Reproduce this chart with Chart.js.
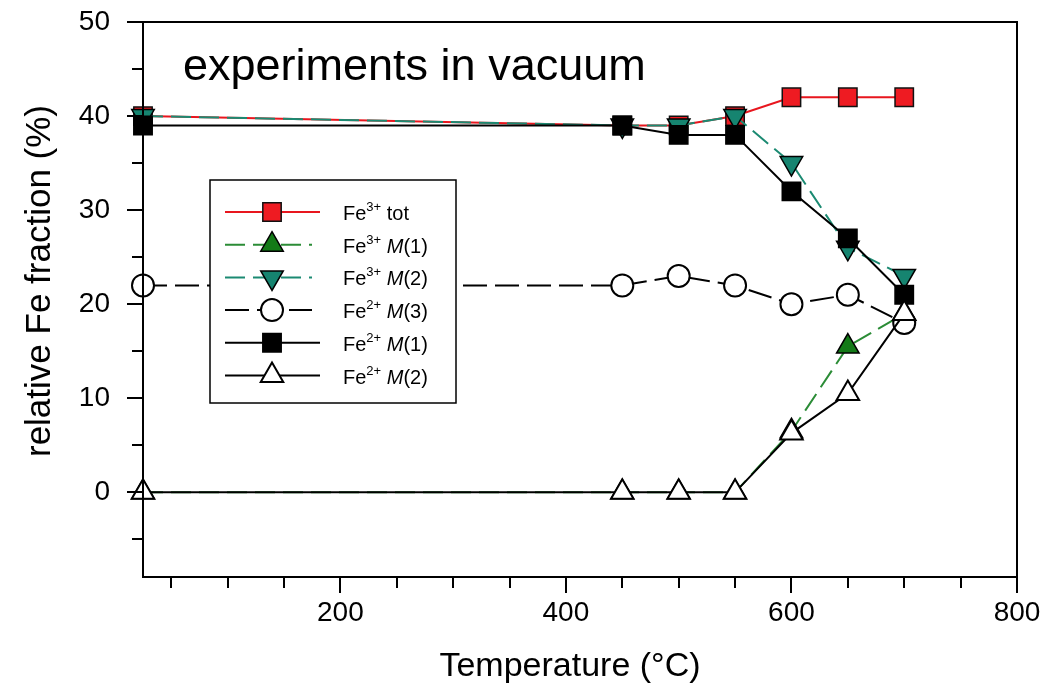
<!DOCTYPE html>
<html>
<head>
<meta charset="utf-8">
<script src="https://cdn.jsdelivr.net/npm/chart.js@4.4.1/dist/chart.umd.min.js"></script>
<style>
  html, body { margin: 0; padding: 0; background: #fff; }
</style>
</head>
<body>
<canvas id="feChart" width="1049" height="696"></canvas>
<script>
// temperatures (°C) and Fe fractions (%)
const temps = [25, 450, 500, 550, 600, 650, 700];
const fe3Tot = [40, 39, 39, 40, 42, 42, 42];
const fe3M1  = [0, 0, 0, 0, 6.5, 15.5, 19];
const fe3M2  = [40, 39, 39, 40, 35, 26, 23];
const fe2M3  = [22, 22, 23, 22, 20, 21, 18];
const fe2M1  = [39, 39, 38, 38, 32, 27, 21];
const fe2M2  = [0, 0, 0, 0, 6.3, 10.5, 19];

const xLabels = [200, 400, 600, 800];
const yLabels = [0, 10, 20, 30, 40, 50];

const FONT = "'Liberation Sans', Arial, sans-serif";

function pts(arr) {
    return temps.map((t, i) => ({ x: t, y: arr[i] }));
}

// legend text pieces: ion charge (superscript), italic site letter, rest
const legendParts = [
    ['3+', '', 'tot'],
    ['3+', 'M', '(1)'],
    ['3+', 'M', '(2)'],
    ['2+', 'M', '(3)'],
    ['2+', 'M', '(1)'],
    ['2+', 'M', '(2)']
];

const datasets = [
    { label: 'Fe3+ tot', data: pts(fe3Tot), borderColor: '#e8161e', borderWidth: 2, borderDash: [],
      pointStyle: 'rect', pointRadius: 13, pointBackgroundColor: '#ee1b22', pointBorderColor: '#111',
      pointBorderWidth: 1.5, order: 5 },
    { label: 'Fe3+ M(1)', data: pts(fe3M1), borderColor: '#2b8c36', borderWidth: 2, borderDash: [20, 8],
      pointStyle: 'triangle', pointRadius: 13, pointBackgroundColor: '#137a17', pointBorderColor: '#000',
      pointBorderWidth: 1.5, order: 4 },
    { label: 'Fe3+ M(2)', data: pts(fe3M2), borderColor: '#1b8a72', borderWidth: 2, borderDash: [20, 8],
      pointStyle: 'triangle', pointRotation: 180, pointRadius: 13, pointBackgroundColor: '#168470',
      pointBorderColor: '#000', pointBorderWidth: 1.5, order: 3 },
    { label: 'Fe2+ M(3)', data: pts(fe2M3), borderColor: '#000', borderWidth: 2, borderDash: [24, 8],
      pointStyle: 'circle', pointRadius: 11, pointBackgroundColor: '#fff', pointBorderColor: '#000',
      pointBorderWidth: 2, order: 2 },
    { label: 'Fe2+ M(1)', data: pts(fe2M1), borderColor: '#000', borderWidth: 2, borderDash: [],
      pointStyle: 'rect', pointRadius: 13, pointBackgroundColor: '#000', pointBorderColor: '#000',
      pointBorderWidth: 1.5, order: 1 },
    { label: 'Fe2+ M(2)', data: pts(fe2M2), borderColor: '#000', borderWidth: 2, borderDash: [],
      pointStyle: 'triangle', pointRadius: 13, pointBackgroundColor: '#fff', pointBorderColor: '#000',
      pointBorderWidth: 2, order: 0 }
];
datasets.forEach(d => { d.tension = 0; d.fill = false; d.clip = false; });

// frame, tick marks, axis titles, legend box and the caption
const decor = {
    id: 'decor',
    afterDraw(chart) {
        const ctx = chart.ctx;
        const a = chart.chartArea;
        const xs = chart.scales.x, ys = chart.scales.y;
        ctx.save();
        ctx.strokeStyle = '#000';
        ctx.lineWidth = 2;
        ctx.setLineDash([]);
        ctx.strokeRect(a.left, a.top, a.right - a.left, a.bottom - a.top);

        xs.ticks.forEach(t => {
            const px = Math.round(xs.getPixelForValue(t.value));
            const len = xLabels.includes(t.value) ? 16 : 11;
            ctx.beginPath();
            ctx.moveTo(px, a.bottom);
            ctx.lineTo(px, a.bottom + len);
            ctx.stroke();
        });
        ys.ticks.forEach(t => {
            const py = Math.round(ys.getPixelForValue(t.value));
            const len = yLabels.includes(t.value) ? 16 : 11;
            ctx.beginPath();
            ctx.moveTo(a.left, py);
            ctx.lineTo(a.left - len, py);
            ctx.stroke();
        });

        // axis titles
        ctx.fillStyle = '#000';
        ctx.textAlign = 'center';
        ctx.textBaseline = 'middle';
        ctx.font = '34px ' + FONT;
        ctx.fillText('Temperature (°C)', 570, 667);
        ctx.save();
        ctx.translate(40, 281);
        ctx.rotate(-Math.PI / 2);
        ctx.font = '35px ' + FONT;
        ctx.fillText('relative Fe fraction (%)', 0, 0);
        ctx.restore();

        // caption
        ctx.font = '45px ' + FONT;
        ctx.textAlign = 'left';
        ctx.textBaseline = 'alphabetic';
        ctx.fillText('experiments in vacuum', 183, 80);

        // legend
        const bx = 210, by = 180, bw = 246, bh = 223;
        ctx.fillStyle = '#fff';
        ctx.fillRect(bx, by, bw, bh);
        ctx.lineWidth = 1.5;
        ctx.strokeRect(bx, by, bw, bh);

        chart.data.datasets.forEach((d, i) => {
            const ry = 212 + i * 32.7;
            ctx.strokeStyle = d.borderColor;
            ctx.lineWidth = d.borderWidth;
            ctx.setLineDash(d.borderDash);
            ctx.beginPath();
            ctx.moveTo(225, ry);
            ctx.lineTo(d.borderDash.length ? 312 : 320, ry);
            ctx.stroke();
            ctx.setLineDash([]);
            ctx.fillStyle = d.pointBackgroundColor;
            ctx.strokeStyle = d.pointBorderColor;
            ctx.lineWidth = d.pointBorderWidth;
            Chart.helpers.drawPoint(ctx, {
                pointStyle: d.pointStyle, rotation: d.pointRotation || 0,
                radius: d.pointRadius, borderWidth: d.pointBorderWidth
            }, 272, ry);

            const p = legendParts[i];
            let tx = 343;
            const base = ry + 8;
            ctx.fillStyle = '#000';
            ctx.font = '20px ' + FONT;
            ctx.fillText('Fe', tx, base);
            tx += ctx.measureText('Fe').width;
            ctx.font = '13px ' + FONT;
            ctx.fillText(p[0], tx, base - 9);
            tx += ctx.measureText(p[0]).width;
            ctx.font = '20px ' + FONT;
            tx += ctx.measureText(' ').width;
            if (p[1]) {
                ctx.font = 'italic 20px ' + FONT;
                ctx.fillText(p[1], tx, base);
                tx += ctx.measureText(p[1]).width;
                ctx.font = '20px ' + FONT;
            }
            ctx.fillText(p[2], tx, base);
        });
        ctx.restore();
    }
};

new Chart(document.getElementById('feChart'), {
    type: 'line',
    data: { datasets: datasets },
    plugins: [decor],
    options: {
        responsive: false,
        animation: false,
        devicePixelRatio: 1,
        layout: { padding: { top: 22, right: 32, left: 0, bottom: 0 } },
        plugins: {
            legend: { display: false },
            tooltip: { enabled: false }
        },
        scales: {
            x: {
                type: 'linear',
                min: 25,
                max: 800,
                afterBuildTicks: s => {
                    const t = [];
                    for (let v = 50; v <= 800; v += 50) t.push({ value: v });
                    s.ticks = t;
                },
                afterFit: s => { s.height = 119; s.paddingLeft = 0; s.paddingRight = 0; },
                grid: { display: true, drawOnChartArea: false, drawTicks: true, tickLength: 16, tickColor: 'rgba(0,0,0,0)' },
                border: { display: true, color: '#000', width: 2 },
                ticks: {
                    autoSkip: false,
                    maxRotation: 0,
                    padding: 3,
                    color: '#000',
                    font: { family: FONT, size: 28 },
                    callback: v => xLabels.includes(v) ? String(v) : ''
                }
            },
            y: {
                type: 'linear',
                min: -9,
                max: 50,
                afterBuildTicks: s => {
                    const t = [];
                    for (let v = -5; v <= 50; v += 5) t.push({ value: v });
                    s.ticks = t;
                },
                afterFit: s => { s.width = 143; s.paddingTop = 0; s.paddingBottom = 0; },
                grid: { display: true, drawOnChartArea: false, drawTicks: true, tickLength: 16, tickColor: 'rgba(0,0,0,0)' },
                border: { display: true, color: '#000', width: 2 },
                ticks: {
                    autoSkip: false,
                    padding: 17,
                    color: '#000',
                    font: { family: FONT, size: 28 },
                    callback: v => yLabels.includes(v) ? String(v) : ''
                }
            }
        }
    }
});
</script>
</body>
</html>
